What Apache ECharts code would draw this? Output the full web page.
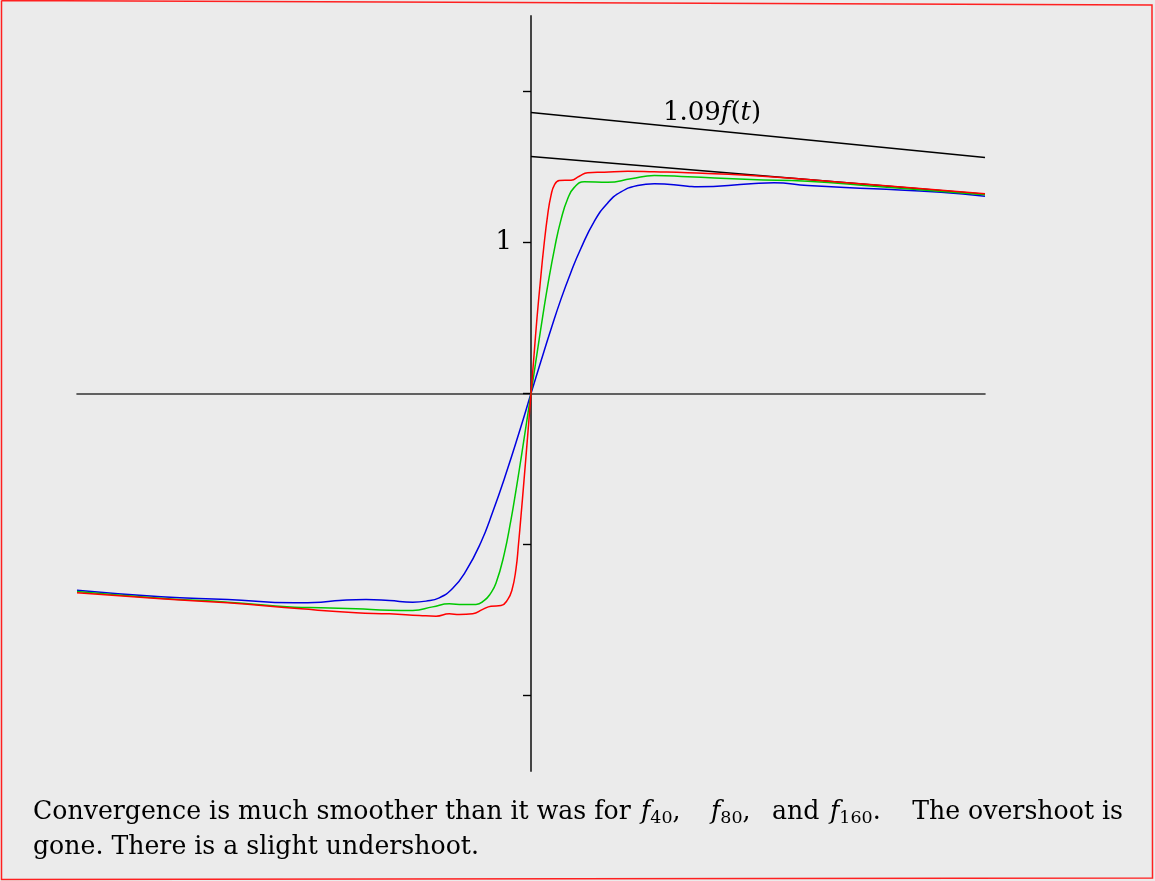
<!DOCTYPE html>
<html><head><meta charset="utf-8">
<script src="https://cdn.jsdelivr.net/npm/echarts@6/dist/echarts.min.js"></script>
<style>html,body{margin:0;padding:0;background:#ebebeb;}#c{width:1155px;height:881px;}</style>
</head><body><div id="c"></div>
<script>
// f(t) and the scaled line, read at t = 0 and t = 0.5
const fLine = [[0, 1.57], [0.5, 1.32]];
const f109Line = [[0, 1.861], [0.5, 1.563]];

// smoothed partial sums
const redCurve = [
  [-0.5,-1.320],[-0.4075,-1.360],[-0.334,-1.386],[-0.2533,-1.426],[-0.1927,-1.452],[-0.1561,-1.459],
  [-0.123,-1.470],[-0.1046,-1.475],[-0.09,-1.459],[-0.079,-1.464],[-0.0642,-1.459],[-0.0532,-1.430],
  [-0.0441,-1.409],[-0.033,-1.404],[-0.0257,-1.365],[-0.0209,-1.30],[-0.0165,-1.16],[-0.0138,-1.0],
  [-0.011,-0.81],[-0.0077,-0.575],[-0.0036,-0.275],[0,0],
  [0.0036,0.275],[0.0066,0.50],[0.0102,0.735],[0.014,0.965],[0.0184,1.185],[0.022,1.31],[0.0257,1.38],
  [0.0312,1.41],[0.0441,1.413],[0.0532,1.439],[0.0624,1.462],[0.0807,1.466],[0.1065,1.472],[0.1358,1.468],
  [0.1726,1.462],[0.2423,1.444],[0.3047,1.417],[0.3767,1.382],[0.5,1.323]
];
const greenCurve = [
  [-0.5,-1.311],[-0.4075,-1.356],[-0.334,-1.382],[-0.2607,-1.415],[-0.2313,-1.419],[-0.1927,-1.426],
  [-0.1561,-1.435],[-0.1303,-1.437],[-0.1083,-1.413],[-0.09,-1.393],[-0.0752,-1.397],[-0.0606,-1.397],
  [-0.0514,-1.37],[-0.0452,-1.33],[-0.0385,-1.255],[-0.0294,-1.06],[-0.022,-0.835],[-0.0184,-0.71],
  [-0.0129,-0.505],[-0.0074,-0.29],[0,0],
  [0.0074,0.295],[0.0129,0.51],[0.0184,0.715],[0.0264,0.975],[0.033,1.15],[0.0404,1.29],[0.0477,1.365],
  [0.0587,1.402],[0.0845,1.399],[0.1101,1.422],[0.1358,1.444],[0.1726,1.435],[0.2423,1.417],[0.3047,1.406],
  [0.3777,1.373],[0.5,1.316]
];
const blueCurve = [
  [-0.5,-1.303],[-0.4075,-1.346],[-0.334,-1.364],[-0.2607,-1.386],[-0.2313,-1.382],[-0.2111,-1.371],
  [-0.1817,-1.364],[-0.1561,-1.371],[-0.1303,-1.382],[-0.1156,-1.375],[-0.101,-1.353],[-0.0862,-1.29],
  [-0.0716,-1.175],[-0.0551,-0.985],[-0.0422,-0.785],[-0.0275,-0.53],[-0.0129,-0.255],[0,0],
  [0.011,0.215],[0.022,0.425],[0.033,0.625],[0.0441,0.805],[0.0543,0.952],[0.0697,1.14],[0.0845,1.262],
  [0.0991,1.335],[0.1175,1.377],[0.1358,1.389],[0.1726,1.373],[0.1836,1.369],[0.2423,1.389],[0.2676,1.395],
  [0.3047,1.377],[0.3777,1.356],[0.4515,1.333],[0.5,1.307]
];

const yTickValues = [-2, -1, 0, 1, 2];
const yLabelValue = 1;

const SERIF = '"DejaVu Serif", "Liberation Serif", serif';
const chart = echarts.init(document.getElementById('c'), null, {renderer: 'canvas'});

function curve(data, color) {
  return {type: 'line', data: data, showSymbol: false, smooth: 0.5, silent: true,
    lineStyle: {color: color, width: 1.5}, z: 3};
}
function straight(data) {
  return {type: 'line', data: data, showSymbol: false, silent: true,
    lineStyle: {color: '#000', width: 1.4}, z: 2};
}

function makeRich(fs, sub) {
  return {
    n: {fontFamily: SERIF, fontSize: fs, lineHeight: 30, fill: '#000'},
    i: {fontFamily: SERIF, fontSize: fs, fontStyle: 'italic', lineHeight: 30, fill: '#000'},
    s: {fontFamily: SERIF, fontSize: sub, lineHeight: 14, verticalAlign: 'bottom', fill: '#000'}
  };
}
const capRich = makeRich(25.2, 17.5);
const lblRich = makeRich(26, 18);
function capText(x, y, txt, align) {
  return {type: 'text', x: x, y: y, silent: true,
    style: {text: txt, rich: capRich, fill: '#000', font: '25.2px ' + SERIF,
      textAlign: align || 'left', align: align || 'left',
      textVerticalAlign: 'middle', verticalAlign: 'middle'}};
}

chart.setOption({
  backgroundColor: '#ebebeb',
  animation: false,
  grid: {left: 77, top: 16, width: 908, height: 755, containLabel: false},
  xAxis: {
    type: 'value', min: -0.5, max: 0.5,
    axisLine: {onZero: true, lineStyle: {color: '#333', width: 1.6}},
    axisTick: {show: false}, axisLabel: {show: false}, splitLine: {show: false}
  },
  yAxis: {
    type: 'value', min: -2.5, max: 2.5,
    axisLine: {onZero: true, lineStyle: {color: '#444', width: 2}},
    axisTick: {show: true, length: 8, customValues: yTickValues, lineStyle: {color: '#000', width: 1.4}},
    axisLabel: {show: false},
    splitLine: {show: false}
  },
  series: [
    straight(fLine),
    straight(f109Line),
    curve(blueCurve, '#0000e0'),
    curve(greenCurve, '#00c800'),
    curve(redCurve, '#ff0000')
  ]
});

const p1 = chart.convertToPixel({gridIndex: 0}, [0, yLabelValue]);
chart.setOption({
  graphic: [
    {type: 'polyline', silent: true,
      shape: {points: [[1.5, 0.5], [1152, 5], [1152.5, 878], [1.5, 879.5], [1.5, 0.5]]},
      style: {stroke: '#ff2020', fill: null, lineWidth: 1.5}},
    {type: 'text', x: p1[0] - 19, y: p1[1], silent: true,
      style: {text: String(yLabelValue), fill: '#000', font: '26px ' + SERIF,
        textAlign: 'right', align: 'right', textVerticalAlign: 'middle', verticalAlign: 'middle'}},
    {type: 'text', x: 712, y: 113, silent: true,
      style: {text: '{n|1.09}{i|f}{n|(}{i|t}{n|)}', rich: lblRich, fill: '#000', font: '26px ' + SERIF,
        textAlign: 'center', align: 'center', textVerticalAlign: 'middle', verticalAlign: 'middle'}},
    capText(33, 812, '{n|Convergence is much smoother than it was for}'),
    capText(641, 812, '{i|f}{s|40}{n|,}'),
    capText(711, 812, '{i|f}{s|80}{n|,}'),
    capText(772, 812, '{n|and}'),
    capText(830, 812, '{i|f}{s|160}{n|.}'),
    capText(1123, 812, '{n|The overshoot is}', 'right'),
    capText(33, 847, '{n|gone. There is a slight undershoot.}')
  ]
});
</script></body></html>
